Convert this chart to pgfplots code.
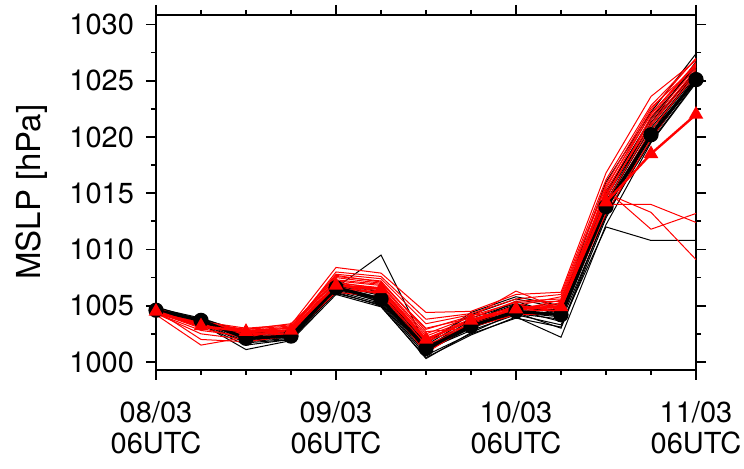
\documentclass[border=0pt]{standalone}
\usepackage{fontspec}
\setmainfont{TeX Gyre Heros}
\usepackage{pgfplots}
\usepackage{pgfplotstable}
\pgfplotsset{compat=1.18}

% time index: 0 = 08/03 06UTC, steps of 6 h
\pgfplotstableread{
t  m1     m2     m3     m4     m5     m6     m7     m8     m9     m10    m11    m12    m13    m14
0  1004.5 1004.7 1004.4 1004.8 1004.6 1004.9 1004.5 1004.3 1004.7 1004.6 1004.5 1004.8 1004.4 1004.6
1  1003.6 1003.8 1003.4 1003.9 1003.5 1003.7 1003.6 1003.3 1003.8 1003.6 1003.7 1003.5 1003.6 1003.4
2  1002.0 1002.3 1001.1 1002.6 1001.8 1002.2 1002.4 1001.5 1002.7 1002.0 1001.9 1002.1 1002.5 1001.7
3  1002.2 1002.5 1001.9 1002.7 1002.1 1002.4 1002.6 1002.0 1002.8 1002.3 1002.2 1002.5 1002.6 1002.0
4  1006.5 1006.8 1006.0 1007.0 1006.3 1006.6 1006.7 1006.2 1006.9 1006.4 1006.5 1006.1 1006.8 1006.6
5  1005.5 1005.9 1004.9 1006.2 1005.2 1009.5 1005.7 1005.0 1006.0 1005.4 1005.6 1005.1 1006.3 1005.3
6  1001.0 1001.4 1000.4 1001.7 1000.8 1001.5 1001.1 1000.3 1001.6 1001.2 1000.9 1000.6 1001.3 1001.0
7  1003.0 1003.4 1002.4 1004.2 1003.6 1003.9 1002.8 1002.6 1004.4 1003.3 1003.1 1002.5 1003.7 1003.5
8  1004.4 1004.8 1004.0 1005.6 1004.6 1005.2 1004.2 1004.4 1005.8 1004.9 1004.3 1003.9 1005.1 1005.4
9  1004.0 1004.5 1002.2 1004.8 1003.6 1004.3 1003.3 1003.0 1005.0 1004.6 1003.8 1003.1 1004.4 1004.1
10 1013.5 1014.3 1012.2 1015.2 1013.0 1014.0 1012.0 1012.8 1016.0 1014.6 1013.6 1013.2 1015.0 1014.2
11 1020.0 1020.8 1019.5 1021.5 1019.8 1021.0 1010.8 1020.3 1022.2 1021.2 1020.6 1019.6 1021.7 1021.3
12 1025.0 1025.6 1024.8 1026.4 1025.2 1026.0 1010.8 1025.9 1027.4 1026.7 1025.4 1024.9 1026.2 1025.8
}\blackmembers

\pgfplotstableread{
t  m1     m2     m3     m4     m5     m6     m7     m8     m9     m10    m11    m12    m13    m14    m15
0  1004.5 1004.3 1004.2 1004.6 1004.7 1004.5 1004.4 1004.8 1004.5 1004.6 1004.3 1004.7 1004.5 1004.4 1004.6
1  1003.3 1002.5 1001.5 1002.0 1003.6 1003.4 1003.1 1003.5 1003.2 1003.4 1002.8 1003.6 1003.3 1003.0 1003.5
2  1002.6 1002.0 1002.2 1001.8 1003.0 1002.8 1002.5 1002.9 1002.4 1002.7 1002.3 1002.6 1002.9 1002.1 1002.8
3  1002.8 1002.5 1002.9 1002.3 1003.3 1003.1 1002.7 1003.2 1002.6 1003.0 1002.9 1002.4 1003.4 1002.6 1003.0
4  1007.2 1006.8 1007.5 1006.5 1008.4 1007.8 1007.0 1007.6 1006.9 1007.3 1008.0 1006.2 1007.1 1006.6 1007.7
5  1006.8 1006.3 1007.0 1006.1 1007.9 1007.4 1006.6 1007.2 1006.0 1006.9 1007.6 1005.8 1006.5 1006.2 1007.1
6  1002.3 1001.8 1003.0 1001.5 1004.4 1003.4 1002.1 1002.7 1001.2 1002.5 1003.8 1000.8 1002.0 1001.9 1002.9
7  1003.8 1003.4 1003.9 1003.2 1004.5 1004.2 1003.6 1003.0 1003.5 1004.0 1004.3 1003.3 1003.7 1003.1 1004.1
8  1004.9 1004.5 1005.4 1004.4 1006.0 1004.3 1004.7 1005.1 1004.8 1006.3 1005.6 1004.6 1005.0 1004.2 1005.3
9  1005.0 1004.6 1005.6 1004.8 1006.2 1005.3 1005.0 1004.4 1005.2 1004.7 1006.0 1005.5 1005.8 1004.3 1005.4
10 1014.8 1014.2 1015.6 1015.3 1016.8 1014.0 1015.0 1014.5 1013.8 1015.4 1016.2 1014.9 1015.8 1013.2 1015.1
11 1021.5 1021.0 1022.0 1011.8 1023.6 1014.0 1013.3 1021.8 1020.6 1022.4 1022.8 1021.2 1022.6 1019.8 1022.1
12 1026.2 1025.8 1026.6 1013.2 1026.8 1012.4 1009.1 1026.5 1025.6 1027.0 1026.9 1026.0 1026.3 1025.4 1026.4
}\redmembers

% ensemble means
\pgfplotstableread{
t  black  red
0  1004.6 1004.5
1  1003.7 1003.2
2  1002.1 1002.7
3  1002.3 1002.8
4  1006.6 1006.8
5  1005.6 1006.5
6  1001.2 1002.0
7  1003.2 1003.7
8  1004.5 1004.7
9  1004.2 1004.9
10 1013.8 1014.2
11 1020.2 1018.5
12 1025.1 1022.0
}\means

\begin{document}
\fontsize{14.5}{15.5}\selectfont
\begin{tikzpicture}
% frame of the whole figure around the 270pt x 177.25pt plot area
\useasboundingbox (-78pt,-49.25pt) rectangle (294pt,184.75pt);
\begin{axis}[
  name=ax,
  at={(0,0)}, anchor=south west,
  scale only axis,
  width=270pt, height=177.25pt,
  xmin=0, xmax=12,
  ymin=999.33, ymax=1030.84,
  xtick={0,4,8,12},
  xticklabels={{08/03\\06UTC},{09/03\\06UTC},{10/03\\06UTC},{11/03\\06UTC}},
  minor xtick={1,2,3,5,6,7,9,10,11},
  ytick={1000,1005,...,1030},
  minor ytick={1002.5,1007.5,...,1027.5},
  tick align=outside,
  major tick length=5pt,
  minor tick length=2.5pt,
  every tick/.style={black, line width=0.9pt},
  axis line style={line width=1pt},
  /pgf/number format/assume math mode=true,
  /pgf/number format/set thousands separator={},
  xticklabel style={align=center, yshift=-6pt},
  yticklabel style={xshift=-1pt},
  ylabel={MSLP [hPa]},
  ylabel style={font=\fontsize{16.5}{18}\selectfont, yshift=1pt},
]
\pgfplotsinvokeforeach{1,...,14}{
  \addplot[black, line width=0.5pt] table[x=t, y=m#1] {\blackmembers};
}
\pgfplotsinvokeforeach{1,...,15}{
  \addplot[red, line width=0.5pt] table[x=t, y=m#1] {\redmembers};
}
\addplot[black, line width=1.6pt, mark=*, mark size=3pt] table[x=t, y=black] {\means};
\addplot[red, line width=1.2pt, mark=triangle*, mark size=3pt] table[x=t, y=red] {\means};
\end{axis}
\end{tikzpicture}
\end{document}
